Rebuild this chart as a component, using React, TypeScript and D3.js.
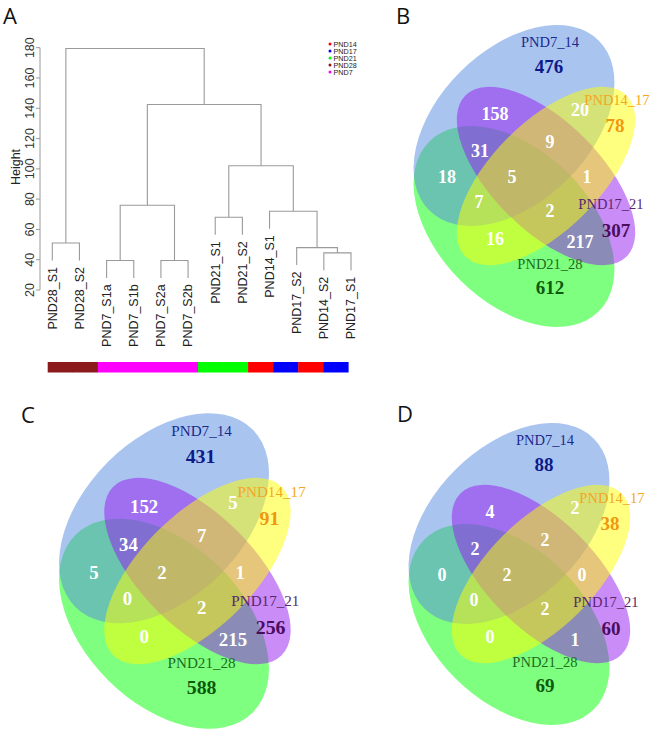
import React from "react";
import * as d3 from "d3";

// ---------- Panel A: sample clustering ----------
const leafNames = [
  "PND28_S1", "PND28_S2", "PND7_S1a", "PND7_S1b", "PND7_S2a", "PND7_S2b",
  "PND21_S1", "PND21_S2", "PND14_S1", "PND17_S2", "PND14_S2", "PND17_S1",
];
const leafGroups = [
  "PND28", "PND28", "PND7", "PND7", "PND7", "PND7",
  "PND21", "PND21", "PND14", "PND17", "PND14", "PND17",
];
// merge steps: a child is a leaf name or the index of an earlier merge
const merges: [string | number, string | number, number][] = [
  ["PND7_S1a", "PND7_S1b", 39.5],
  ["PND7_S2a", "PND7_S2b", 39.5],
  ["PND14_S2", "PND17_S1", 44.5],
  ["PND17_S2", 2, 48],
  ["PND28_S1", "PND28_S2", 51],
  ["PND21_S1", "PND21_S2", 68],
  ["PND14_S1", 3, 72],
  [0, 1, 76],
  [5, 6, 102],
  [7, 8, 142.5],
  [4, 9, 179.5],
];
const heightTicks = [20, 40, 60, 80, 100, 120, 140, 160, 180];
const groupNames = ["PND14", "PND17", "PND21", "PND28", "PND7"];
const groupColors = ["#FF0000", "#0000FF", "#00FF00", "#8B1A1A", "#FF00FF"];
const hang = 11.5;

// ---------- Venn panels ----------
const setNames = ["PND7_14", "PND14_17", "PND17_21", "PND21_28"];
const setLabelColors = ["#1a2a8c", "#f5a623", "#5a2570", "#1d6b1d"];
const setCountColors = ["#0c1a8a", "#f0960f", "#4a0d5c", "#0c5a0c"];
// A = PND7_14, B = PND14_17, C = PND17_21, D = PND21_28
const regionKeys = ["AC", "AB", "ACD", "ABC", "AD", "ABCD", "BC", "ABD", "BCD", "BD", "CD"];
const uniqueB = [476, 78, 307, 612];
const regionsB = [158, 20, 31, 9, 18, 5, 1, 7, 2, 16, 217];
const uniqueC = [431, 91, 256, 588];
const regionsC = [152, 5, 34, 7, 5, 2, 1, 0, 2, 0, 215];
const uniqueD = [88, 38, 60, 69];
const regionsD = [4, 2, 2, 2, 0, 2, 0, 0, 2, 0, 1];

// layout of the four-ellipse diagram, in units relative to its centre
const ellipses = [
  { set: "D", dx: 0, dy: 50.5, rx: 120, ry: 76, angle: 45, fill: "rgb(0,255,0)" },
  { set: "A", dx: 0, dy: -50.5, rx: 120, ry: 76, angle: -45, fill: "rgb(85,137,225)" },
  { set: "C", dx: 32, dy: 0, rx: 114, ry: 54, angle: 45, fill: "rgb(150,25,240)" },
  { set: "B", dx: 32, dy: 0, rx: 114, ry: 54, angle: -45, fill: "rgb(255,255,0)" },
];
const regionPos: Record<string, [number, number]> = {
  AC: [-19, -62], AB: [66, -66], ACD: [-34, -25], ABC: [36, -34],
  AD: [-67, 1], ABCD: [-2, 1], BC: [73, 1], ABD: [-35, 26],
  BCD: [36, 35], BD: [-19, 63], CD: [66, 66],
};
const namePos: [number, number][] = [[36, -134], [103, -76], [97, 28], [36, 88]];
const countPos: [number, number][] = [[35, -110], [101, -51], [102, 54], [36, 111]];

const Venn = ({ cx, cy, k, unique, regions }: any) => {
  const sx = d3.scaleLinear().domain([-100, 100]).range([cx - 100 * k, cx + 100 * k]);
  const sy = d3.scaleLinear().domain([-100, 100]).range([cy - 100 * k, cy + 100 * k]);
  const serif = "'Liberation Serif', 'Times New Roman', serif";
  return (
    <g>
      {ellipses.map((e) => (
        <ellipse
          key={e.set}
          cx={sx(e.dx)}
          cy={sy(e.dy)}
          rx={e.rx * k}
          ry={e.ry * k}
          transform={`rotate(${e.angle} ${sx(e.dx)} ${sy(e.dy)})`}
          fill={e.fill}
          fillOpacity={0.5}
        />
      ))}
      {regionKeys.map((key, i) => (
        <text
          key={key}
          x={sx(regionPos[key][0])}
          y={sy(regionPos[key][1])}
          textAnchor="middle"
          dominantBaseline="central"
          fill="#fff"
          fontFamily={serif}
          fontWeight="bold"
          fontSize={18 * k}
        >
          {regions[i]}
        </text>
      ))}
      {setNames.map((name, i) => (
        <g key={name}>
          <text
            x={sx(namePos[i][0])}
            y={sy(namePos[i][1])}
            textAnchor="middle"
            dominantBaseline="central"
            fill={setLabelColors[i]}
            fontFamily={serif}
            fontSize={14.5 * k}
          >
            {name}
          </text>
          <text
            x={sx(countPos[i][0])}
            y={sy(countPos[i][1])}
            textAnchor="middle"
            dominantBaseline="central"
            fill={setCountColors[i]}
            fontFamily={serif}
            fontWeight="bold"
            fontSize={19 * k}
          >
            {unique[i]}
          </text>
        </g>
      ))}
    </g>
  );
};

const Dendrogram = () => {
  const x = d3.scaleLinear().domain([0, leafNames.length - 1]).range([52.3, 351]);
  const y = d3.scaleLinear().domain([20, 180]).range([290, 47.7]);
  const bar = d3.scaleBand<number>().domain(d3.range(leafNames.length)).range([47.7, 348.3]);
  const legendY = d3.scalePoint<string>().domain(groupNames).range([44, 72]);
  const colorOf = d3.scaleOrdinal<string, string>().domain(groupNames).range(groupColors);

  const nodeX: number[] = [];
  const paths: string[] = [];
  const leaves: { name: string; x: number; h: number }[] = [];
  const child = (c: string | number, h: number) => {
    if (typeof c === "number") return { x: nodeX[c], h: merges[c][2] };
    const lx = x(leafNames.indexOf(c));
    leaves.push({ name: c, x: lx, h: h - hang });
    return { x: lx, h: h - hang };
  };
  merges.forEach(([l, r, h], i) => {
    const a = child(l, h);
    const b = child(r, h);
    nodeX[i] = (a.x + b.x) / 2;
    paths.push(`M${a.x},${y(a.h)}V${y(h)}H${b.x}V${y(b.h)}`);
  });
  const sans = "'Liberation Sans', Arial, sans-serif";

  return (
    <g fontFamily={sans}>
      {paths.map((d, i) => (
        <path key={i} d={d} fill="none" stroke="#9a9a9a" strokeWidth={1.1} />
      ))}
      {leaves.map((lf) => (
        <text
          key={lf.name}
          transform={`translate(${lf.x},${y(lf.h) + 6.5}) rotate(-90)`}
          textAnchor="end"
          dy="0.35em"
          fontSize={12.5}
          fill="#222"
        >
          {lf.name}
        </text>
      ))}
      <line x1={40} x2={40} y1={y(20)} y2={y(180)} stroke="#9a9a9a" />
      {heightTicks.map((t) => (
        <g key={t}>
          <line x1={36} x2={40} y1={y(t)} y2={y(t)} stroke="#9a9a9a" />
          <text
            transform={`translate(34,${y(t)}) rotate(-90)`}
            textAnchor="middle"
            fontSize={12.5}
            fill="#333"
          >
            {t}
          </text>
        </g>
      ))}
      <text transform="translate(20,167) rotate(-90)" textAnchor="middle" fontSize={12.5} fill="#222">
        Height
      </text>
      {leafGroups.map((g, i) => (
        <rect key={i} x={bar(i)} y={362} width={bar.bandwidth() + 0.3} height={10.5} fill={colorOf(g)} />
      ))}
      {groupNames.map((g) => (
        <g key={g}>
          <circle cx={330} cy={legendY(g)} r={1.5} fill={colorOf(g)} />
          <text x={333.5} y={legendY(g)} dy="0.36em" fontSize={7.2} fill="#222">
            {g}
          </text>
        </g>
      ))}
    </g>
  );
};

export default function App() {
  const letter = { fontFamily: "'Open Sans', 'Liberation Sans', sans-serif", fontSize: 22, fill: "#111" };
  return (
    <svg
      width={652}
      height={733}
      style={{ position: "absolute", left: 0, top: 0, background: "#fff" }}
    >
      <rect width={652} height={733} fill="#fff" />
      <Dendrogram />
      <Venn cx={514} cy={176} k={1} unique={uniqueB} regions={regionsB} />
      <Venn cx={164} cy={571} k={1.045} unique={uniqueC} regions={regionsC} />
      <Venn cx={509} cy={574} k={1} unique={uniqueD} regions={regionsD} />
      <text x={3} y={23.5} {...letter}>A</text>
      <text x={396} y={23.5} {...letter}>B</text>
      <text x={21} y={423} {...letter}>C</text>
      <text x={397} y={422} {...letter}>D</text>
    </svg>
  );
}
